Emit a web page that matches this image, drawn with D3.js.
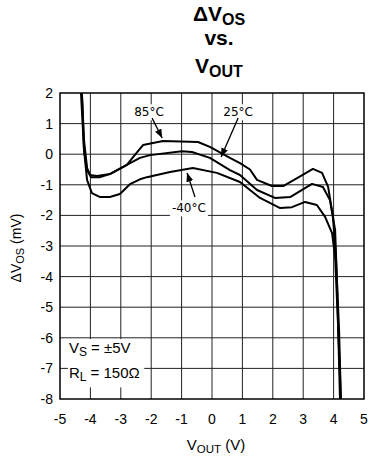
<!DOCTYPE html>
<html>
<head>
<meta charset="utf-8">
<script src="https://cdn.jsdelivr.net/npm/d3@7"></script>
<style>
  body { margin: 0; background: #fff; }
  text { font-family: "Liberation Sans", Arial, sans-serif; fill: #000; }
</style>
</head>
<body>
<div id="chart"></div>
<script>
// axis ticks
const xTicks = [-5, -4, -3, -2, -1, 0, 1, 2, 3, 4, 5];
const yTicks = [2, 1, 0, -1, -2, -3, -4, -5, -6, -7, -8];

// VOUT (V) / dVOS (mV) for each temperature
const vout85 = [-4.28, -4.21, -4.11, -4.01, -3.78, -3.36, -2.80, -2.57, -2.27, -1.61, -0.46, -0.07, 0.59, 0.92, 1.25, 1.48, 1.97, 2.34, 2.80, 3.32, 3.62, 3.82, 3.98, 4.08, 4.18, 4.24];
const dvos85 = [2.0, 0.46, -0.45, -0.68, -0.71, -0.65, -0.35, -0.06, 0.30, 0.43, 0.40, 0.24, -0.12, -0.29, -0.50, -0.84, -1.04, -1.04, -0.78, -0.48, -0.61, -1.07, -2.05, -3.46, -5.75, -8.0];

const vout25 = [-4.31, -4.21, -4.11, -3.98, -3.68, -3.36, -2.80, -2.37, -2.04, -0.99, -0.66, -0.07, 0.59, 0.92, 1.48, 2.07, 2.57, 3.29, 3.65, 3.88, 4.05, 4.11, 4.21];
const dvos25 = [2.0, 0.14, -0.52, -0.75, -0.75, -0.65, -0.35, -0.12, -0.03, 0.10, 0.07, -0.12, -0.52, -0.68, -1.17, -1.43, -1.40, -0.97, -1.07, -1.50, -2.48, -4.11, -8.0];

const voutM40 = [-4.28, -4.21, -4.11, -3.95, -3.68, -3.36, -3.03, -2.70, -2.37, -2.14, -1.38, -0.63, 0.16, 0.92, 1.58, 2.24, 2.63, 3.06, 3.45, 3.72, 3.95, 4.05, 4.14, 4.24];
const dvosM40 = [2.0, 0.14, -0.84, -1.27, -1.40, -1.40, -1.30, -0.98, -0.82, -0.75, -0.58, -0.45, -0.61, -0.91, -1.43, -1.76, -1.73, -1.56, -1.66, -2.05, -2.58, -3.36, -5.42, -8.0];

// curve labels: text, label centre, arrow start, arrow end (data units)
const labelNames = ["85°C", "25°C", "-40°C"];
const labelPos = [[-2.07, 1.38], [0.86, 1.38], [-0.76, -1.76]];
const arrowFrom = [[-1.97, 1.18], [0.86, 1.18], [-0.56, -1.40]];
const arrowTo = [[-1.64, 0.53], [0.30, -0.09], [-0.82, -0.61]];

const W = 369, H = 457;
const margin = { top: 93, right: 5, bottom: 58, left: 60 };

const svg = d3.select("#chart").append("svg")
    .attr("width", W).attr("height", H);

const x = d3.scaleLinear().domain([-5, 5]).range([margin.left, W - margin.right]);
const y = d3.scaleLinear().domain([-8, 2]).range([H - margin.bottom, margin.top]);

// title, three lines
const title = svg.append("g").attr("font-weight", "bold").attr("font-size", 21).attr("text-anchor", "middle");
const t1 = title.append("text").attr("x", 219).attr("y", 21);
t1.append("tspan").text("ΔV");
t1.append("tspan").attr("font-size", 16).attr("dy", 4).text("OS");
title.append("text").attr("x", 219).attr("y", 45).text("vs.");
const t3 = title.append("text").attr("x", 219).attr("y", 73);
t3.append("tspan").text("V");
t3.append("tspan").attr("font-size", 16).attr("dy", 4).text("OUT");

// grid
svg.append("g").selectAll("line").data(xTicks.slice(1, -1)).join("line")
    .attr("x1", d => x(d)).attr("x2", d => x(d))
    .attr("y1", y(2)).attr("y2", y(-8))
    .attr("stroke", "#222").attr("stroke-width", 1);
svg.append("g").selectAll("line").data(yTicks.slice(1, -1)).join("line")
    .attr("y1", d => y(d)).attr("y2", d => y(d))
    .attr("x1", x(-5)).attr("x2", x(5))
    .attr("stroke", "#222").attr("stroke-width", 1);

// tick labels
svg.append("g").attr("font-size", 14).attr("text-anchor", "end")
  .selectAll("text").data(yTicks).join("text")
    .attr("x", margin.left - 7).attr("y", d => y(d)).attr("dy", "0.36em")
    .text(d => d);
svg.append("g").attr("font-size", 14).attr("text-anchor", "middle")
  .selectAll("text").data(xTicks).join("text")
    .attr("x", d => x(d)).attr("y", 424)
    .text(d => d);

// axis titles
const xt = svg.append("text").attr("x", 216).attr("y", 450).attr("font-size", 15).attr("text-anchor", "middle");
xt.append("tspan").text("V");
xt.append("tspan").attr("font-size", 11.5).attr("dy", 3).text("OUT");
xt.append("tspan").attr("dy", -3).text(" (V)");

const yt = svg.append("text").attr("transform", "translate(21,248) rotate(-90)")
    .attr("font-size", 14).attr("text-anchor", "middle");
yt.append("tspan").text("ΔV");
yt.append("tspan").attr("font-size", 11).attr("dy", 3).text("OS");
yt.append("tspan").attr("dy", -3).text(" (mV)");

// conditions box
const cond = svg.append("g");
cond.append("rect")
    .attr("x", x(-4.74)).attr("y", y(-6.04))
    .attr("width", x(-2.23) - x(-4.74)).attr("height", y(-7.62) - y(-6.04))
    .attr("fill", "#fff");
const c1 = cond.append("text").attr("x", x(-4.74) + 1).attr("y", 353).attr("font-size", 15);
c1.append("tspan").text("V");
c1.append("tspan").attr("font-size", 12).attr("dy", 3).text("S");
c1.append("tspan").attr("dy", -3).text(" = ±5V");
const c2 = cond.append("text").attr("x", x(-4.74) + 1).attr("y", 378).attr("font-size", 15);
c2.append("tspan").text("R");
c2.append("tspan").attr("font-size", 12).attr("dy", 3).text("L");
c2.append("tspan").attr("dy", -3).text(" = 150Ω");

// plot frame
svg.append("rect")
    .attr("x", x(-5)).attr("y", y(2))
    .attr("width", x(5) - x(-5)).attr("height", y(-8) - y(2))
    .attr("fill", "none").attr("stroke", "#000").attr("stroke-width", 1.5);

// curves
const line = d3.line().x(d => x(d[0])).y(d => y(d[1]));
const series = [
    d3.zip(vout85, dvos85),
    d3.zip(vout25, dvos25),
    d3.zip(voutM40, dvosM40)
];
svg.append("g").selectAll("path").data(series).join("path")
    .attr("d", line)
    .attr("fill", "none").attr("stroke", "#000").attr("stroke-width", 2)
    .attr("stroke-linejoin", "round");

// arrowhead
svg.append("defs").append("marker")
    .attr("id", "head").attr("markerUnits", "userSpaceOnUse")
    .attr("viewBox", "0 0 10 8").attr("refX", 10).attr("refY", 4)
    .attr("markerWidth", 9).attr("markerHeight", 7).attr("orient", "auto")
  .append("path").attr("d", "M0,0L10,4L0,8Z").attr("fill", "#000");

// curve labels with white background and arrows
labelNames.forEach((name, i) => {
    const g = svg.append("g");
    const bg = g.append("rect").attr("fill", "#fff");
    const t = g.append("text")
        .attr("x", x(labelPos[i][0])).attr("y", y(labelPos[i][1])).attr("dy", "0.36em")
        .attr("text-anchor", "middle")
        .style("font-family", "'DejaVu Sans', Verdana, sans-serif").attr("font-size", 12)
        .text(name);
    const b = t.node().getBBox();
    bg.attr("x", b.x - 2).attr("y", b.y - 1).attr("width", b.width + 4).attr("height", b.height + 2);
    g.append("line")
        .attr("x1", x(arrowFrom[i][0])).attr("y1", y(arrowFrom[i][1]))
        .attr("x2", x(arrowTo[i][0])).attr("y2", y(arrowTo[i][1]))
        .attr("stroke", "#000").attr("stroke-width", 1.3)
        .attr("marker-end", "url(#head)");
});
</script>
</body>
</html>
